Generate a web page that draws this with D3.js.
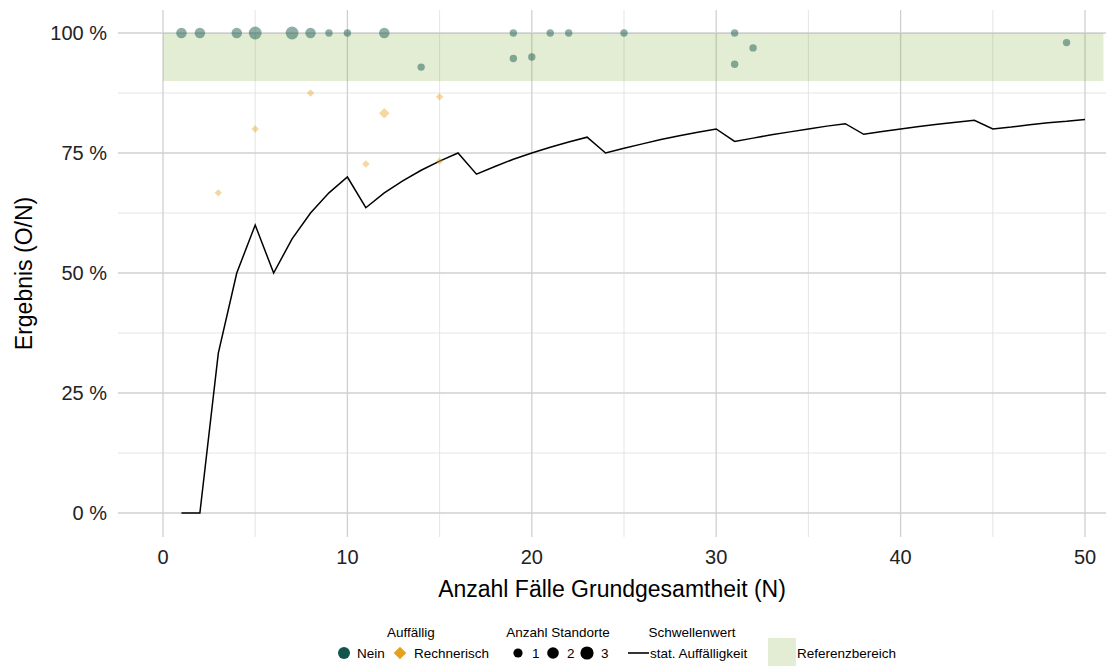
<!DOCTYPE html>
<html><head><meta charset="utf-8">
<script src="https://cdn.jsdelivr.net/npm/d3@7"></script>
<style>body{margin:0;background:#fff}svg{display:block;font-family:"Liberation Sans",Arial,sans-serif}</style>
</head><body>
<svg id="c" width="1106" height="666"></svg>
<script>
// ---- data ----
const xTicks = [0, 10, 20, 30, 40, 50];
const xMinor = [5, 15, 25, 35, 45];
const yTicks = [0, 25, 50, 75, 100];
const yTickLabels = ["0 %", "25 %", "50 %", "75 %", "100 %"];
const yMinor = [12.5, 37.5, 62.5, 87.5];

const refBandN = [0, 51];
const refBandVal = [90, 100];

const thresholdN = [1,2,3,4,5,6,7,8,9,10,11,12,13,14,15,16,17,18,19,20,21,22,23,24,25,26,27,28,29,30,31,32,33,34,35,36,37,38,39,40,41,42,43,44,45,46,47,48,49,50];
const thresholdVal = [0,0,33.3,50,60,50,57.1,62.5,66.7,70,63.6,66.7,69.2,71.4,73.3,75,70.6,72.2,73.7,75,76.2,77.3,78.3,75,76,76.9,77.8,78.6,79.3,80,77.4,78.1,78.8,79.4,80,80.6,81.1,78.9,79.5,80,80.5,81,81.4,81.8,80,80.4,80.9,81.3,81.6,82];

const neinN     = [1,2,4,5,7,8,9,10,12,14,19,19,20,21,22,25,31,31,32,49];
const neinVal   = [100,100,100,100,100,100,100,100,100,92.9,100,94.7,95,100,100,100,100,93.5,96.9,98];
const neinCount = [2,2,2,3,3,2,1,1,2,1,1,1,1,1,1,1,1,1,1,1];

const rechN     = [3,5,8,11,12,15,15];
const rechVal   = [66.7,80,87.5,72.7,83.3,86.7,73.3];
const rechCount = [1,1,1,1,2,1,1];

const legAuffLabels = ["Nein", "Rechnerisch"];
const legSizeLabels = ["1", "2", "3"];
const legTitles = ["Auffällig", "Anzahl Standorte", "Schwellenwert"];
const legLineLabel = "stat. Auffälligkeit";
const legRefLabel = "Referenzbereich";
const xTitle = "Anzahl Fälle Grundgesamtheit (N)";
const yTitle = "Ergebnis (O/N)";

// ---- drawing ----
const svg = d3.select("#c");
const green = "#14554b", orange = "#e6a01c";
const panel = {l:118, r:1106, t:10, b:537};
const x = d3.scaleLinear().domain([0, 50]).range([163, 1085]);
const y = d3.scaleLinear().domain([0, 100]).range([513, 33]);
const size = d3.scaleSqrt().domain([0, 3]).range([0, 6.4]);

const g = svg.append("g");
// minor grid
g.selectAll(".vminor").data(xMinor).join("line")
  .attr("x1", d=>x(d)).attr("x2", d=>x(d)).attr("y1", panel.t).attr("y2", panel.b)
  .attr("stroke", "#dedede").attr("stroke-width", 0.8);
g.selectAll(".hminor").data(yMinor).join("line")
  .attr("y1", d=>y(d)).attr("y2", d=>y(d)).attr("x1", panel.l).attr("x2", panel.r)
  .attr("stroke", "#dedede").attr("stroke-width", 0.8);
// major grid
g.selectAll(".vmajor").data(xTicks).join("line")
  .attr("x1", d=>x(d)).attr("x2", d=>x(d)).attr("y1", panel.t).attr("y2", panel.b)
  .attr("stroke", "#d0d0d0").attr("stroke-width", 1.3);
g.selectAll(".hmajor").data(yTicks).join("line")
  .attr("y1", d=>y(d)).attr("y2", d=>y(d)).attr("x1", panel.l).attr("x2", panel.r)
  .attr("stroke", "#d0d0d0").attr("stroke-width", 1.3);

// reference band
g.append("rect")
  .attr("x", x(refBandN[0])).attr("width", x(refBandN[1]) - x(refBandN[0]))
  .attr("y", y(refBandVal[1])).attr("height", y(refBandVal[0]) - y(refBandVal[1]))
  .attr("fill", "rgb(110,165,35)").attr("fill-opacity", 0.2);

// threshold line
const lineData = thresholdN.map((n,i)=>[n, thresholdVal[i]]);
g.append("path").datum(lineData)
  .attr("d", d3.line().x(d=>x(d[0])).y(d=>y(d[1])))
  .attr("fill", "none").attr("stroke", "#000").attr("stroke-width", 1.5)
  .attr("stroke-linejoin", "miter");

// points
const neinData = neinN.map((n,i)=>({n, v:neinVal[i], c:neinCount[i]}));
g.selectAll(".nein").data(neinData).join("circle")
  .attr("cx", d=>x(d.n)).attr("cy", d=>y(d.v)).attr("r", d=>size(d.c))
  .attr("fill", green).attr("fill-opacity", 0.48);

const rechData = rechN.map((n,i)=>({n, v:rechVal[i], c:rechCount[i]}));
const diamond = d3.symbol().type(d3.symbolDiamond2);
g.selectAll(".rech").data(rechData).join("path")
  .attr("transform", d=>`translate(${x(d.n)},${y(d.v)})`)
  .attr("d", d=>{ const r = size(d.c)*1.0; return `M0,${-r}L${r},0L0,${r}L${-r},0Z`; })
  .attr("fill", orange).attr("fill-opacity", 0.42);

// axes labels
const tickFont = 20;
svg.selectAll(".xt").data(xTicks).join("text")
  .attr("x", d=>x(d)).attr("y", 564).attr("text-anchor", "middle")
  .attr("font-size", tickFont).attr("fill", "#222").text(d=>d);
svg.selectAll(".yt").data(yTicks).join("text")
  .attr("x", 107).attr("y", d=>y(d)).attr("dy", "0.36em").attr("text-anchor", "end")
  .attr("font-size", tickFont).attr("fill", "#222").text((d,i)=>yTickLabels[i]);

svg.append("text").attr("x", (panel.l+panel.r)/2).attr("y", 597)
  .attr("text-anchor", "middle").attr("font-size", 23).attr("fill", "#000").text(xTitle);
svg.append("text").attr("transform", `translate(32,${(panel.t+panel.b)/2}) rotate(-90)`)
  .attr("text-anchor", "middle").attr("font-size", 23).attr("fill", "#000").text(yTitle);

// legend
const lg = svg.append("g").attr("font-size", 13.5).attr("fill", "#000");
const titleY = 637, itemY = 658;
const titleX = [411, 558, 692];
lg.selectAll(".lt").data(legTitles).join("text")
  .attr("x", (d,i)=>titleX[i]).attr("y", titleY).attr("text-anchor", "middle").text(d=>d);

lg.append("circle").attr("cx", 344).attr("cy", itemY-5).attr("r", 6).attr("fill", green);
lg.append("path").attr("transform", `translate(400,${itemY-5})`)
  .attr("d", "M0,-6.3L6.3,0L0,6.3L-6.3,0Z").attr("fill", orange);
lg.selectAll(".la").data(legAuffLabels).join("text")
  .attr("x", (d,i)=>[357, 414][i]).attr("y", itemY).text(d=>d);

const sizeX = [518, 553, 587];
lg.selectAll(".ls").data(legSizeLabels).join("circle")
  .attr("cx", (d,i)=>sizeX[i]).attr("cy", itemY-5).attr("r", (d,i)=>[4.6,5.8,6.6][i]).attr("fill", "#000");
lg.selectAll(".lsl").data(legSizeLabels).join("text")
  .attr("x", (d,i)=>sizeX[i]+14).attr("y", itemY).text(d=>d);

lg.append("line").attr("x1", 628).attr("x2", 649).attr("y1", itemY-5).attr("y2", itemY-5)
  .attr("stroke", "#000").attr("stroke-width", 1.6);
lg.append("text").attr("x", 650).attr("y", itemY).text(legLineLabel);

lg.append("rect").attr("x", 768).attr("y", 638).attr("width", 28).attr("height", 28)
  .attr("fill", "rgb(110,165,35)").attr("fill-opacity", 0.2);
lg.append("text").attr("x", 797).attr("y", itemY).text(legRefLabel);
</script>
</body></html>
